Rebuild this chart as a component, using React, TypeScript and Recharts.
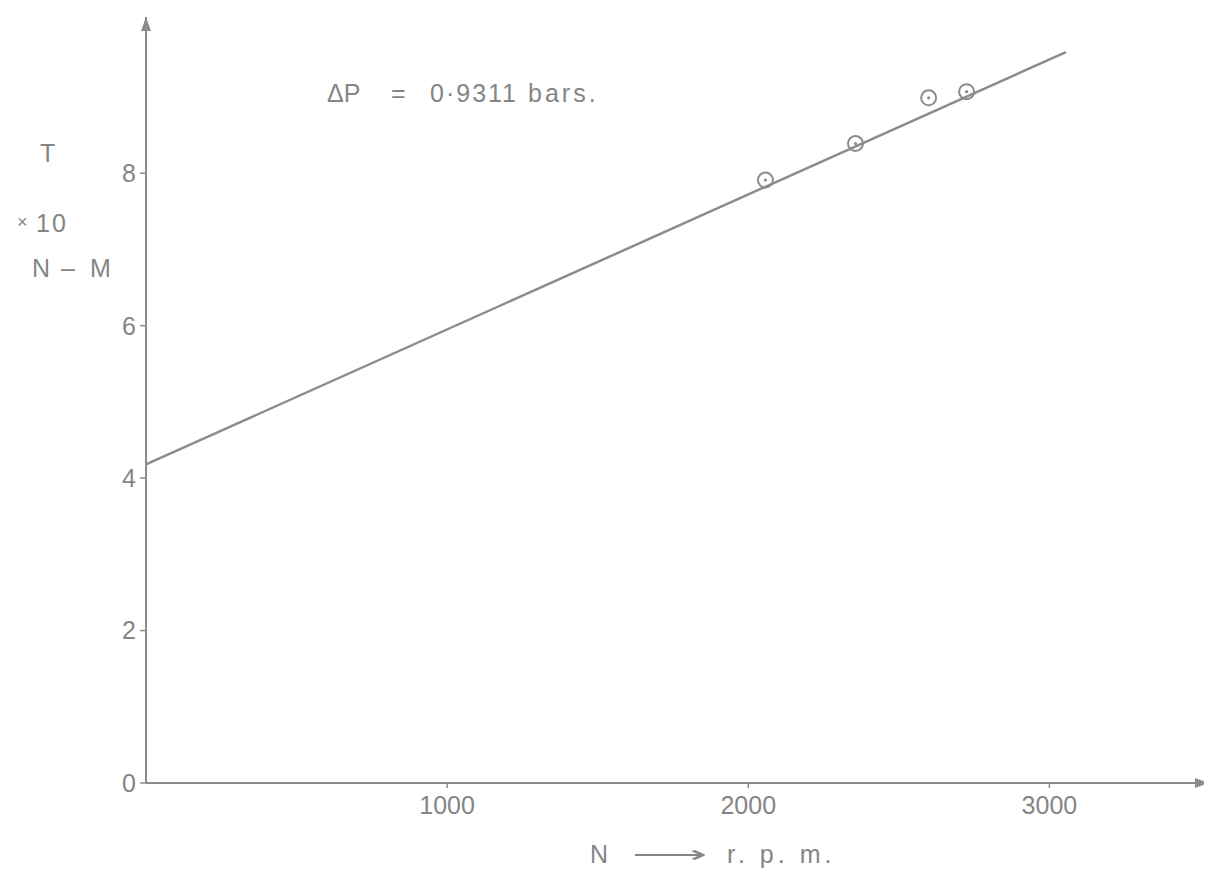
import { ComposedChart, Line, Scatter, XAxis, YAxis, ReferenceDot } from "recharts";

// measured points: speed N (r.p.m.) vs torque T (x10 N-M)
const speeds = [2057, 2356, 2599, 2725];
const torques = [7.91, 8.39, 8.99, 9.07];

const fitSpeeds = [0, 3055];
const fitTorques = [4.18, 9.59];

const xTicks = [1000, 2000, 3000];
const yTicks = [0, 2, 4, 6, 8];

const X_MAX = 3530;
const Y_MAX = 10.05;

const points = speeds.map((n, i) => ({ n, t: torques[i] }));
const fit = fitSpeeds.map((n, i) => ({ n, t: fitTorques[i] }));

const INK = "#8c8c8c";
const TEXT = "#858585";
const FONT = "'Liberation Sans', Arial, sans-serif";

const Ring = (props: any) => {
  const { cx, cy } = props;
  return (
    <g>
      <circle cx={cx} cy={cy} r={7.5} fill="none" stroke={INK} strokeWidth={2} />
      <circle cx={cx} cy={cy} r={1.6} fill={INK} />
    </g>
  );
};

const ArrowRight = (props: any) => {
  const { cx, cy } = props;
  return <path d={`M${cx - 14},${cy - 5} L${cx},${cy} L${cx - 14},${cy + 5} Z`} fill={INK} />;
};

const ArrowUp = (props: any) => {
  const { cx, cy } = props;
  return <path d={`M${cx - 5},${cy + 14} L${cx},${cy} L${cx + 5},${cy + 14} Z`} fill={INK} />;
};

const label = (left: number, top: number, size = 25, spacing = 0): React.CSSProperties => ({
  position: "absolute",
  left,
  top,
  fontFamily: FONT,
  fontSize: size,
  color: TEXT,
  whiteSpace: "nowrap",
  lineHeight: 1,
  letterSpacing: spacing,
});

export default function App() {
  return (
    <div style={{ position: "relative", width: 1204, height: 873 }}>
      <ComposedChart
        width={1204}
        height={873}
        margin={{ top: 9, right: 3, bottom: 38, left: 98 }}
      >
        <XAxis
          dataKey="n"
          type="number"
          domain={[0, X_MAX]}
          ticks={xTicks}
          allowDataOverflow
          height={60}
          axisLine={{ stroke: INK, strokeWidth: 2 }}
          tickLine={{ stroke: INK, strokeWidth: 1.5 }}
          tickSize={5}
          tickMargin={8}
          tick={{ fill: TEXT, fontSize: 25, fontFamily: FONT }}
        />
        <YAxis
          dataKey="t"
          type="number"
          domain={[0, Y_MAX]}
          ticks={yTicks}
          allowDataOverflow
          width={40}
          axisLine={{ stroke: INK, strokeWidth: 2 }}
          tickLine={{ stroke: INK, strokeWidth: 1.5 }}
          tickSize={6}
          tickMargin={4}
          tick={{ fill: TEXT, fontSize: 25, fontFamily: FONT }}
        />
        <Line
          data={fit}
          dataKey="t"
          stroke={INK}
          strokeWidth={2.5}
          dot={false}
          activeDot={false}
          isAnimationActive={false}
        />
        <Scatter data={points} dataKey="t" shape={Ring} isAnimationActive={false} />
        <ReferenceDot x={X_MAX} y={0} shape={ArrowRight} ifOverflow="visible" />
        <ReferenceDot x={0} y={Y_MAX} shape={ArrowUp} ifOverflow="visible" />
      </ComposedChart>

      <div style={label(32, 133)}>T</div>
      <div style={label(9, 205, 18)}>×</div>
      <div style={label(28, 203, 25, 2)}>10</div>
      <div style={label(24, 248)}>N</div>
      <div style={label(53, 248)}>–</div>
      <div style={label(82, 248)}>M</div>

      <div style={label(319, 73)}>ΔP</div>
      <div style={label(383, 73)}>=</div>
      <div style={label(422, 73, 25, 2)}>0·9311</div>
      <div style={label(520, 73, 25, 3)}>bars.</div>

      <div style={label(582, 834)}>N</div>
      <div
        style={{
          ...label(624, 834),
          transform: "scaleX(2.1)",
          transformOrigin: "left center",
        }}
      >
        ⟶
      </div>
      <div style={label(719, 834, 25, 4)}>r. p. m.</div>
    </div>
  );
}
